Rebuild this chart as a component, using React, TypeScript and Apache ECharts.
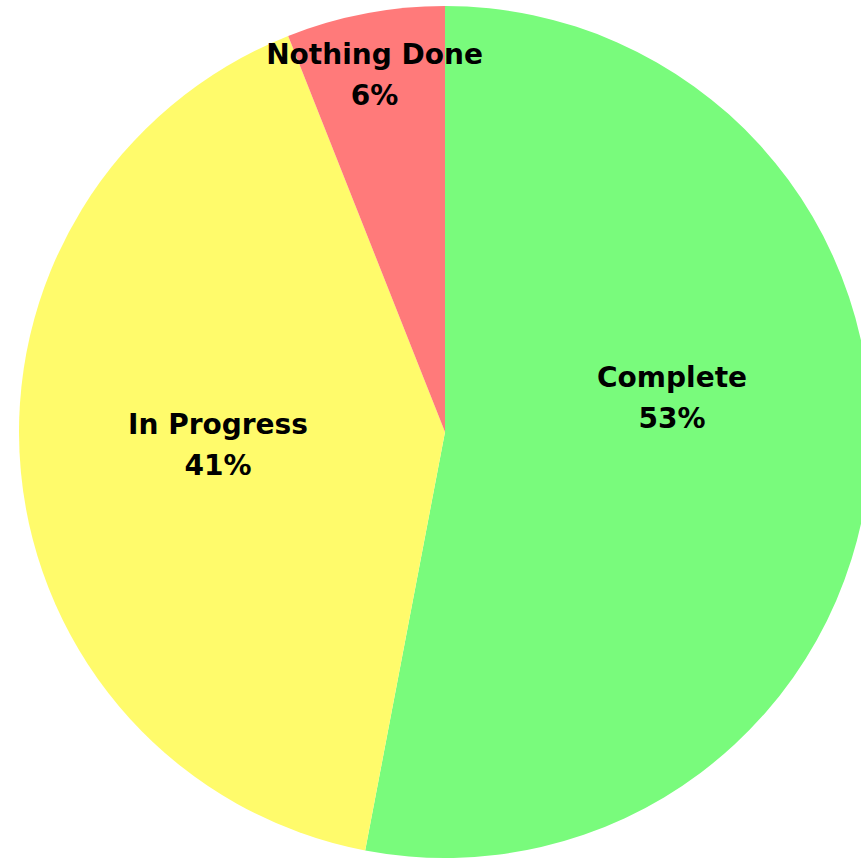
import React, { useEffect, useRef } from "react";
import * as echarts from "echarts";

const categories = ["Complete", "In Progress", "Nothing Done"];
const values = [53, 41, 6];
const colors = ["#79FB7C", "#FFFB6B", "#FF7A7A"];
// label nudges relative to ECharts' inside position (style only)
const labelShift = [
  [12, -54],
  [-12, -7],
  [-30, -145],
];

export default function App() {
  const ref = useRef<HTMLDivElement>(null);
  useEffect(() => {
    if (!ref.current) return;
    const chart = echarts.init(ref.current, null, { renderer: "svg" });
    const total = values.reduce((a, b) => a + b, 0);
    chart.setOption({
      animation: false,
      series: [
        {
          type: "pie",
          center: [445, 432],
          radius: [0, 426],
          startAngle: 90,
          clockwise: true,
          avoidLabelOverlap: false,
          data: categories.map((name, i) => ({
            name,
            value: values[i],
            itemStyle: { color: colors[i] },
          })),
          itemStyle: { borderWidth: 0 },
          emphasis: { disabled: true },
          label: {
            show: true,
            position: "inside",
            color: "#000",
            fontFamily: "DejaVu Sans",
            fontWeight: "bold",
            fontSize: 28,
            lineHeight: 41,
            align: "center",
            formatter: (p: any) =>
              `${p.name}\n${Math.round((p.value / total) * 100)}%`,
          },
          labelLine: { show: false },
          labelLayout: (p: any) => ({
            dx: labelShift[p.dataIndex][0],
            dy: labelShift[p.dataIndex][1],
            hideOverlap: false,
          }),
        },
      ],
    });
    return () => chart.dispose();
  }, []);
  return (
    <div
      ref={ref}
      style={{ position: "absolute", left: 0, top: 0, width: 861, height: 861 }}
    />
  );
}
